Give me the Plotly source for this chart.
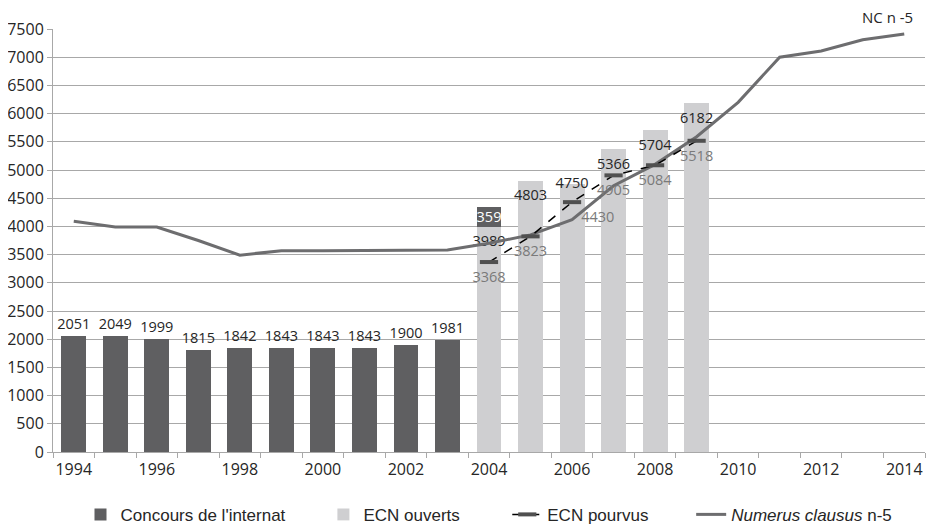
import plotly.graph_objects as go

# ---- data ----
years_all = list(range(1994, 2015))
concours_years = list(range(1994, 2005))
concours_vals = [2051, 2049, 1999, 1815, 1842, 1843, 1843, 1843, 1900, 1981, 359]
ecn_years = list(range(2004, 2010))
ecn_ouverts = [3989, 4803, 4750, 5366, 5704, 6182]
ecn_pourvus = [3368, 3823, 4430, 4905, 5084, 5518]
numerus_clausus = [4090, 3990, 3990, 3750, 3490, 3570, 3570, 3570, 3570, 3580,
                   3700, 3850, 4120, 4720, 5100, 5590, 6200, 7000, 7110, 7310, 7410]
x_tick_years = list(range(1994, 2015, 2))
y_ticks = list(range(0, 7501, 500))

# ---- style ----
DARK = "#5f5f61"
LIGHT = "#cfcfd1"
NCCOL = "#6d6d6f"
TXT = "#262626"
GRID = "#a8a8a8"
FONT = "Open Sans, Liberation Sans, Arial, sans-serif"
LEGFONT = "Liberation Sans, Arial, sans-serif"
NB = "\u00a0"
LBL = 14.5

fig = go.Figure()

fig.add_trace(go.Bar(
    x=ecn_years, y=ecn_ouverts, name="ECN ouverts" + NB * 9,
    marker=dict(color=LIGHT, line=dict(width=0)),
    legendrank=2, cliponaxis=False,
))

fig.add_trace(go.Bar(
    x=concours_years, y=concours_vals, name="Concours de l'internat" + NB * 7,
    marker=dict(color=DARK, line=dict(width=0)),
    text=[str(v) for v in concours_vals],
    textposition=["outside"] * (len(concours_vals) - 1) + ["inside"], textangle=0,
    insidetextanchor="middle", constraintext="none",
    textfont=dict(color=[TXT] * (len(concours_vals) - 1) + ["white"], size=LBL, family=FONT),
    legendrank=1, cliponaxis=False,
))

# labels of the ECN ouverts bars (invisible markers only set the text offset)
fig.add_trace(go.Scatter(
    x=ecn_years, y=ecn_ouverts, mode="markers+text", showlegend=False, hoverinfo="skip",
    marker=dict(size=12, color="rgba(0,0,0,0)"),
    text=[str(v) for v in ecn_ouverts],
    textposition=["bottom center", "bottom center", "middle center",
                  "bottom center", "bottom center", "bottom center"],
    textfont=dict(color=TXT, size=LBL, family=FONT),
    cliponaxis=False,
))

fig.add_trace(go.Scatter(
    x=years_all, y=numerus_clausus, name="<i>Numerus clausus</i> n-5",
    mode="lines", line=dict(color=NCCOL, width=3),
    legendrank=4,
))

fig.add_trace(go.Scatter(
    x=ecn_years, y=ecn_pourvus, name="ECN pourvus" + NB * 8,
    mode="lines+markers+text",
    line=dict(color="black", width=1.5, dash="dash"),
    marker=dict(symbol="line-ew", size=13, color="#606060",
                line=dict(width=4, color="#505050")),
    text=[str(v) for v in ecn_pourvus],
    textposition=["bottom center", "bottom center", "bottom right",
                  "bottom center", "bottom center", "bottom center"],
    textfont=dict(color="#7a7a7a", size=LBL, family=FONT),
    legendrank=3, cliponaxis=False,
))

fig.add_annotation(x=2013.6, y=7410, text="NC n -5", showarrow=False,
                   yanchor="bottom", yshift=5,
                   font=dict(color=TXT, size=15, family=FONT))

# page body has an 8px margin, so the figure is sized to fit the window
fig.update_layout(
    width=926, height=521,
    margin=dict(l=45, r=9, t=21, b=77, autoexpand=False),
    plot_bgcolor="white", paper_bgcolor="white",
    barmode="stack", bargap=0.4,
    font=dict(family=FONT, color=TXT, size=15),
    legend=dict(orientation="h", x=0.5, xanchor="center", y=-0.106, yanchor="top",
                font=dict(family=LEGFONT, size=17, color=TXT),
                traceorder="normal"),
    xaxis=dict(
        range=[1993.5, 2014.5], tickmode="array", tickvals=x_tick_years,
        ticktext=[str(y) for y in x_tick_years], ticks="", showgrid=False,
        showline=True, linecolor=GRID, linewidth=1, zeroline=False,
        automargin=False, ticklabelstandoff=3,
        tickfont=dict(size=16, color=TXT, family=FONT),
        minor=dict(tickmode="array", tickvals=[y - 0.5 for y in years_all] + [2014.5],
                   ticks="outside", ticklen=5, tickcolor=GRID, showgrid=False),
    ),
    yaxis=dict(
        range=[0, 7500], tickmode="array", tickvals=y_ticks,
        ticks="outside", ticklen=5, tickcolor=GRID,
        showgrid=True, gridcolor=GRID, gridwidth=1,
        showline=True, linecolor=GRID, linewidth=1, zeroline=False,
        automargin=False,
        tickfont=dict(size=16, color=TXT, family=FONT),
    ),
)

fig.write_html("out.html")
